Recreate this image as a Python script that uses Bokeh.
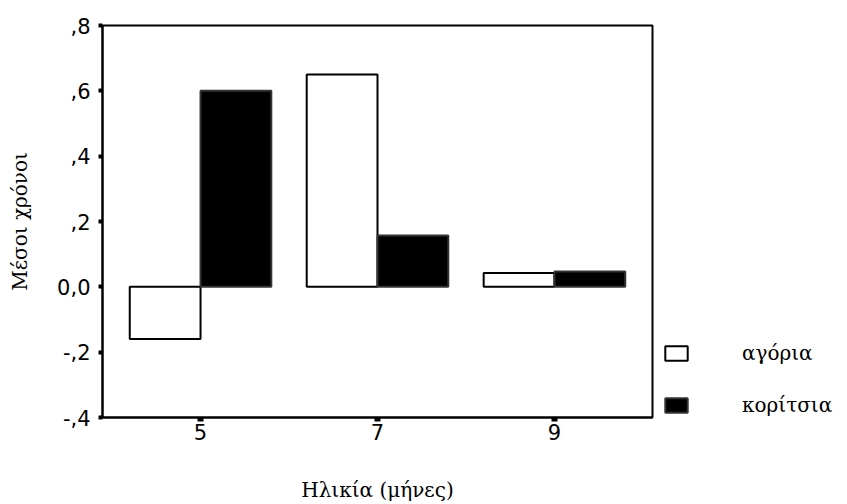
from bokeh.plotting import figure
from bokeh.models import (ColumnDataSource, FactorRange, Range1d, FixedTicker,
                          CustomJSTickFormatter, Legend, LegendItem)
from bokeh.layouts import row
from bokeh.transform import dodge
from bokeh.embed import file_html
from bokeh.resources import INLINE

# ---- data ----
ages = ["5", "7", "9"]
boys = [-0.16, 0.65, 0.042]
girls = [0.60, 0.157, 0.047]
series_names = ["αγόρια", "κορίτσια"]
y_tick_values = [-0.4, -0.2, 0.0, 0.2, 0.4, 0.6, 0.8]
y_tick_labels = ["-,4", "-,2", "0,0", ",2", ",4", ",6", ",8"]
x_title = "Ηλικία (μήνες)"
y_title = "Μέσοι χρόνοι"

SANS = "DejaVu Sans"
SERIF = "DejaVu Serif"
BOYS_STYLE = dict(fill_color="white", line_color="black", line_width=2)
GIRLS_STYLE = dict(fill_color="black", line_color="#333333", line_width=2)

src = ColumnDataSource(dict(age=ages, boys=boys, girls=girls))

p = figure(width=656, height=504, output_backend="svg", toolbar_location=None,
           x_range=FactorRange(*ages, range_padding=0.036),
           y_range=Range1d(-0.4, 0.8),
           min_border_left=102, min_border_top=25, min_border_bottom=87,
           min_border_right=4)

p.background_fill_color = "white"
p.border_fill_color = "white"
p.outline_line_color = "black"
p.outline_line_width = 2
p.xgrid.visible = False
p.ygrid.visible = False

bw = 0.40
p.vbar(x=dodge("age", -0.2, range=p.x_range), top="boys", bottom=0,
       width=bw, source=src, **BOYS_STYLE)
p.vbar(x=dodge("age", 0.2, range=p.x_range), top="girls", bottom=0,
       width=bw, source=src, **GIRLS_STYLE)

# y axis
ya = p.yaxis[0]
ya.ticker = FixedTicker(ticks=y_tick_values)
ya.formatter = CustomJSTickFormatter(args=dict(vals=y_tick_values, labs=y_tick_labels), code="""
    let best = 0, bd = 1e9;
    for (let i = 0; i < vals.length; i++) {
        const d = Math.abs(vals[i] - tick);
        if (d < bd) { bd = d; best = i; }
    }
    return labs[best];
""")
ya.minor_tick_line_color = None
ya.major_tick_in = 0
ya.major_tick_out = 4
ya.major_tick_line_width = 4
ya.axis_line_width = 2
ya.major_label_standoff = 8
ya.major_label_text_font = SANS
ya.major_label_text_font_size = "21px"
ya.major_label_text_color = "black"
ya.axis_label = y_title
ya.axis_label_text_font = SERIF
ya.axis_label_text_font_size = "20px"
ya.axis_label_text_font_style = "normal"
ya.axis_label_text_color = "black"
ya.axis_label_standoff = 22

# x axis
xa = p.xaxis[0]
xa.major_tick_in = 0
xa.major_tick_out = 4
xa.major_tick_line_width = 6
xa.axis_line_width = 2
xa.major_label_standoff = 2
xa.major_label_text_font = SANS
xa.major_label_text_font_size = "21px"
xa.major_label_text_color = "black"
xa.axis_label = x_title
xa.axis_label_text_font = SERIF
xa.axis_label_text_font_size = "20px"
xa.axis_label_text_font_style = "normal"
xa.axis_label_text_color = "black"
xa.axis_label_standoff = 35

# legend panel (separate, axis-less figure to the right).
# Its two renderers are legend proxies only: a NaN height means nothing is drawn.
p2 = figure(width=191, height=504, output_backend="svg", toolbar_location=None,
            x_axis_type=None, y_axis_type=None,
            x_range=FactorRange(*ages), y_range=Range1d(0, 1),
            min_border_left=0, min_border_right=0, min_border_top=0,
            min_border_bottom=0)
p2.outline_line_color = None
p2.background_fill_color = "white"
p2.border_fill_color = "white"
p2.xgrid.visible = False
p2.ygrid.visible = False
proxy = ColumnDataSource(dict(age=ages[:1], top=[float("nan")]))
lb = p2.vbar(x="age", top="top", bottom=0, width=0.4, source=proxy, **BOYS_STYLE)
lg = p2.vbar(x="age", top="top", bottom=0, width=0.4, source=proxy, **GIRLS_STYLE)

legend = Legend(items=[LegendItem(label=series_names[0], renderers=[lb]),
                       LegendItem(label=series_names[1], renderers=[lg])],
                location=(6, 0), orientation="vertical",
                glyph_width=28, glyph_height=18, label_height=17,
                label_standoff=52, spacing=28, padding=0, margin=0,
                border_line_color=None, background_fill_alpha=0,
                label_text_font=SERIF, label_text_font_size="20px",
                label_text_color="black")
p2.add_layout(legend, "center")

layout = row(p, p2)
open("out.html", "w").write(file_html(layout, INLINE))
